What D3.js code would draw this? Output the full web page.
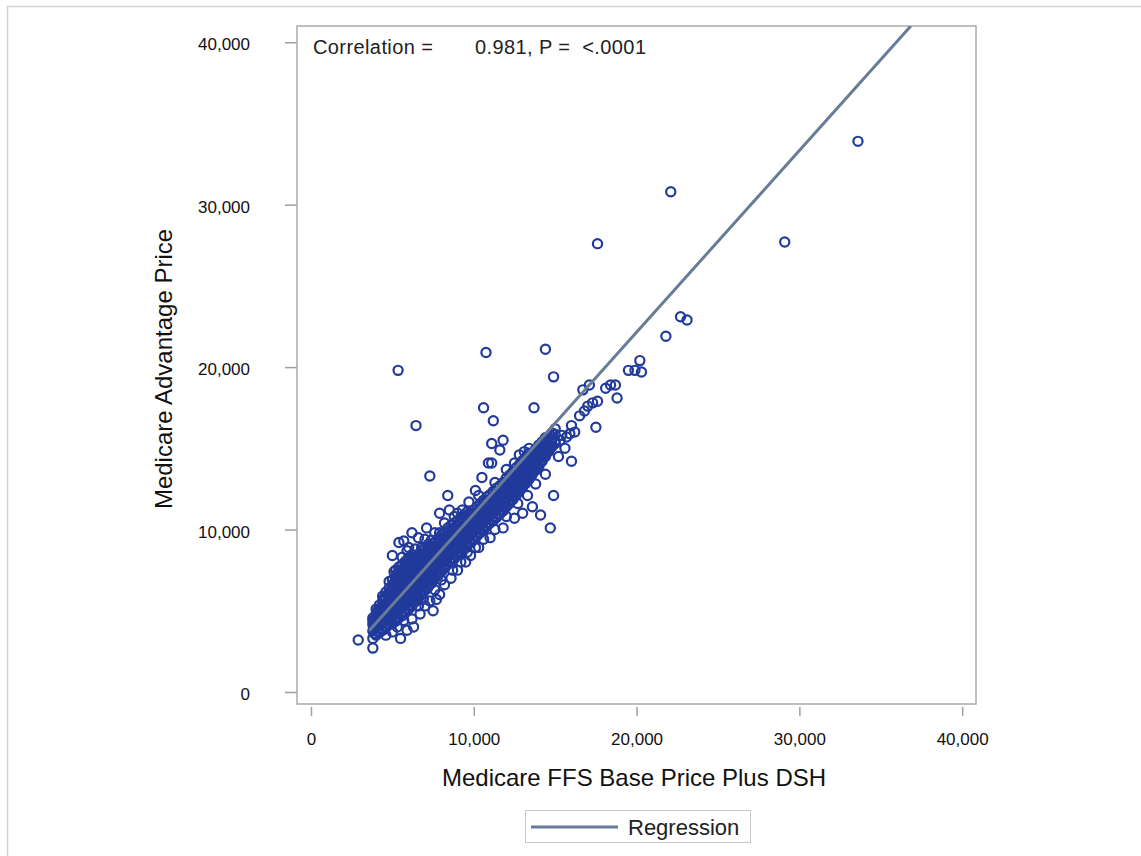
<!DOCTYPE html>
<html>
<head>
<meta charset="utf-8">
<title>Medicare Advantage vs FFS Price</title>
<script src="https://cdn.jsdelivr.net/npm/d3@7/dist/d3.min.js"></script>
<style>
  html, body { margin: 0; padding: 0; background: #fff; }
  svg { display: block; font-family: "Liberation Sans", Arial, Helvetica, sans-serif; }
</style>
</head>
<body>
<svg id="chart" width="1141" height="856"></svg>
<script>
// ---- data: FFS base price plus DSH (x) vs Medicare Advantage price (y) ----
const xTicks = [0, 10000, 20000, 30000, 40000];
const yTicks = [0, 10000, 20000, 30000, 40000];

// main cloud, grouped by FFS price with the MA prices observed at that FFS level
const coreColumns = [
  [3800, [3300, 3750, 4150, 4550]],
  [4000, [3500, 3950, 4350, 4800, 5100]],
  [4200, [3650, 4100, 4550, 4950, 5350]],
  [4400, [3800, 4250, 4700, 5150, 5600]],
  [4600, [3950, 4400, 4850, 5300, 5750, 6150]],
  [4800, [4150, 4600, 5050, 5500, 5950, 6400]],
  [5000, [4200, 4650, 5100, 5550, 6000, 6450, 6900]],
  [5200, [4350, 4800, 5250, 5700, 6150, 6600, 7050, 7500]],
  [5400, [4550, 5000, 5450, 5900, 6350, 6800, 7250, 7700]],
  [5600, [4700, 5150, 5600, 6050, 6500, 6950, 7400, 7850]],
  [5800, [4900, 5350, 5800, 6250, 6700, 7150, 7600, 8050]],
  [6000, [5100, 5550, 6000, 6450, 6900, 7350, 7800, 8250]],
  [6200, [5300, 5750, 6200, 6650, 7100, 7550, 8000, 8450]],
  [6400, [5550, 6000, 6450, 6900, 7350, 7800, 8250]],
  [6600, [5800, 6250, 6700, 7150, 7600, 8050, 8500]],
  [6800, [6000, 6450, 6900, 7350, 7800, 8250, 8700]],
  [7000, [6250, 6700, 7150, 7600, 8050, 8500, 8900]],
  [7200, [6450, 6900, 7350, 7800, 8250, 8700, 9100]],
  [7400, [6700, 7150, 7600, 8050, 8500, 8950, 9350]],
  [7600, [6950, 7400, 7850, 8300, 8750, 9200]],
  [7800, [7150, 7600, 8050, 8500, 8950, 9400]],
  [8000, [7400, 7850, 8300, 8750, 9200, 9650]],
  [8200, [7600, 8050, 8500, 8950, 9400, 9850]],
  [8400, [7850, 8300, 8750, 9200, 9650, 10100]],
  [8600, [8000, 8450, 8900, 9350, 9800, 10250]],
  [8800, [8200, 8650, 9100, 9550, 10000, 10400]],
  [9000, [8400, 8850, 9300, 9750, 10200, 10550]],
  [9200, [8600, 9050, 9500, 9950, 10400, 10750]],
  [9400, [8800, 9250, 9700, 10150, 10600, 10900]],
  [9600, [9000, 9450, 9900, 10350, 10800, 11100]],
  [9800, [9200, 9650, 10100, 10550, 11000]],
  [10000, [9400, 9850, 10300, 10750, 11200]],
  [10200, [9600, 10050, 10500, 10950, 11400]],
  [10400, [9800, 10250, 10700, 11150, 11600]],
  [10600, [10000, 10450, 10900, 11350, 11800]],
  [10800, [10200, 10650, 11100, 11550, 12000]],
  [11000, [10400, 10850, 11300, 11750, 12150]],
  [11200, [10550, 11000, 11450, 11900, 12350]],
  [11400, [10750, 11200, 11650, 12100, 12550]],
  [11600, [10950, 11400, 11850, 12300, 12700]],
  [11800, [11150, 11600, 12050, 12500, 12900]],
  [12000, [11400, 11850, 12300, 12750, 13150]],
  [12200, [11600, 12050, 12500, 12950, 13350]],
  [12400, [11850, 12300, 12750, 13200, 13550]],
  [12600, [12100, 12550, 13000, 13450, 13800]],
  [12800, [12350, 12800, 13250, 13700, 14000]],
  [13000, [12600, 13050, 13500, 13950, 14250]],
  [13200, [12850, 13300, 13750, 14200, 14450]],
  [13400, [13100, 13550, 14000, 14450, 14700]],
  [13600, [13400, 13850, 14300, 14700]],
  [13800, [13650, 14100, 14550, 14950]],
  [14000, [13900, 14350, 14800, 15200]],
  [14200, [14200, 14650, 15050, 15400]],
  [14400, [14500, 14950, 15350, 15650]],
  [14600, [14800, 15250, 15650]],
  [14800, [15100, 15550, 15950]],
  [15000, [15400, 15850, 16200]]
];

// hospitals falling between the columns above
const coreColumnsMid = [
  [3900, [3600, 4000, 4400]],
  [4100, [3750, 4200, 4600, 5000]],
  [4300, [3900, 4350, 4800, 5200]],
  [4500, [4050, 4500, 4950, 5400, 5800]],
  [4700, [4200, 4650, 5100, 5550, 6000]],
  [4900, [4400, 4850, 5300, 5750, 6200]],
  [5100, [4450, 4900, 5350, 5800, 6250, 6700]],
  [5300, [4600, 5050, 5500, 5950, 6400, 6850, 7300]],
  [5500, [4800, 5250, 5700, 6150, 6600, 7050, 7500]],
  [5700, [4950, 5400, 5850, 6300, 6750, 7200, 7650]],
  [5900, [5150, 5600, 6050, 6500, 6950, 7400, 7850]],
  [6100, [5350, 5800, 6250, 6700, 7150, 7600, 8050]],
  [6300, [5550, 6000, 6450, 6900, 7350, 7800, 8250]],
  [6500, [5800, 6250, 6700, 7150, 7600, 8050]],
  [6700, [6050, 6500, 6950, 7400, 7850, 8300]],
  [6900, [6250, 6700, 7150, 7600, 8050, 8500]],
  [7100, [6500, 6950, 7400, 7850, 8300, 8700]],
  [7300, [6700, 7150, 7600, 8050, 8500, 8900]],
  [7500, [6950, 7400, 7850, 8300, 8750, 9150]],
  [7700, [7200, 7650, 8100, 8550, 9000]],
  [7900, [7400, 7850, 8300, 8750, 9200]],
  [8100, [7650, 8100, 8550, 9000, 9450]],
  [8300, [7850, 8300, 8750, 9200, 9650]],
  [8500, [8100, 8550, 9000, 9450, 9900]],
  [8700, [8250, 8700, 9150, 9600, 10050]],
  [8900, [8450, 8900, 9350, 9800, 10200]],
  [9100, [8650, 9100, 9550, 10000, 10400]],
  [9300, [8850, 9300, 9750, 10200, 10600]],
  [9500, [9050, 9500, 9950, 10400, 10750]],
  [9700, [9250, 9700, 10150, 10600, 10950]],
  [9900, [9450, 9900, 10350, 10800]],
  [10100, [9650, 10100, 10550, 11000]],
  [10300, [9850, 10300, 10750, 11200]],
  [10500, [10050, 10500, 10950, 11400]],
  [10700, [10250, 10700, 11150, 11600]],
  [10900, [10450, 10900, 11350, 11800]],
  [11100, [10650, 11100, 11550, 11950]],
  [11300, [10800, 11250, 11700, 12150]],
  [11500, [11000, 11450, 11900, 12350]],
  [11700, [11200, 11650, 12100, 12500]],
  [11900, [11400, 11850, 12300, 12700]],
  [12100, [11650, 12100, 12550, 12950]],
  [12300, [11850, 12300, 12750, 13150]],
  [12500, [12100, 12550, 13000, 13400]],
  [12700, [12350, 12800, 13250, 13650]],
  [12900, [12600, 13050, 13500, 13850]],
  [13100, [12850, 13300, 13750, 14100]],
  [13300, [13100, 13550, 14000, 14350]],
  [13500, [13350, 13800, 14250, 14600]],
  [13700, [13650, 14100, 14500]],
  [13900, [13900, 14350, 14750]],
  [14100, [14150, 14600, 15000]],
  [14300, [14450, 14850, 15250]],
  [14500, [14750, 15150, 15500]],
  [14700, [15000, 15450, 15800]]
];

// scattered points above the main cloud
const upperSpread = [
  [5000, 8400], [5400, 9200], [5700, 9300], [6000, 8900], [6200, 9800],
  [6600, 9500], [6800, 8900], [7100, 10100], [7900, 9800], [7900, 11000],
  [8400, 12100], [8500, 11200], [10100, 12400], [10500, 13200], [10900, 14100],
  [11100, 14100], [11600, 14900], [11100, 15300], [11800, 15500], [7300, 13300],
  [12800, 14600], [4400, 5900], [4800, 6800], [5100, 7400], [5600, 8300],
  [5900, 8700], [6400, 8800], [7000, 9400], [7600, 9800], [8800, 10800],
  [9300, 11200], [9700, 11700], [10300, 12100], [11300, 12900], [12000, 13700],
  [12500, 14100], [13100, 14800], [13400, 15000], [9000, 11000], [8200, 10400]
];

// scattered points below the main cloud
const lowerSpread = [
  [4200, 4900], [3800, 4400], [5500, 3300], [5900, 3800], [6200, 4500],
  [6300, 4000], [6700, 4800], [7000, 5300], [7500, 5000], [7700, 5700],
  [7300, 5600], [7900, 6000], [8200, 6600], [8600, 7000], [9000, 7500],
  [9500, 8000], [9800, 8400], [10300, 8900], [11000, 9500], [11800, 10100],
  [12500, 10700], [13000, 11000], [13600, 11400], [14100, 10900], [14700, 10100],
  [14900, 12100], [16000, 14200], [4600, 3500], [5000, 3700], [5300, 4000],
  [5700, 4400], [6600, 5300], [6900, 5700], [7600, 6300], [8000, 6900],
  [8700, 7500], [9200, 8000], [9600, 8600], [10100, 8900], [10600, 9400],
  [11300, 10000], [12000, 10800], [12700, 11600], [13300, 12100], [13800, 12800],
  [14400, 13400], [15200, 14500], [15600, 15000]
];

// upper tail of the cloud, 15,000 to 20,500
const upperTail = [
  [15000, 15300], [15300, 15500], [15400, 15800], [15700, 15700], [15900, 15900],
  [16200, 16000], [16000, 16400], [16500, 17000], [16800, 17300], [17000, 17600],
  [17300, 17800], [17600, 17900], [17500, 16300], [16700, 18600], [17100, 18900],
  [18100, 18700], [18400, 18900], [18700, 18900], [18800, 18100], [19500, 19800],
  [19900, 19800], [20200, 20400], [20300, 19700]
];

// isolated outliers
const outliers = [
  [2900, 3200], [3800, 2700], [5350, 19800], [6450, 16400], [10750, 20900],
  [14400, 21100], [14900, 19400], [10600, 17500], [11200, 16700], [13700, 17500],
  [22100, 30800], [17600, 27600], [29100, 27700], [33600, 33900], [22700, 23100],
  [23100, 22900], [21800, 21900]
];

// fitted regression line: MA = intercept + slope * FFS
const regSlope = 1.119;
const regIntercept = -232;
const regStartFFS = 3600;

const corrLabel = "Correlation =";
const corrValue = "0.981, P =  <.0001";

// ---- layout ----
const svg = d3.select("#chart");
const plot = { left: 297, top: 26, right: 976, bottom: 704 };

const x = d3.scaleLinear().domain([-860, 40850]).range([plot.left, plot.right]);
const y = d3.scaleLinear().domain([-740, 41000]).range([plot.bottom, plot.top]);

const fmt = d3.format(",");
const pointColor = "#213a9b";
const fitColor = "#687b97";
const frameColor = "#ababab";

// outer border of the graph area
svg.append("rect")
  .attr("x", 7.5).attr("y", 6.5)
  .attr("width", 1141).attr("height", 856)
  .attr("fill", "none").attr("stroke", "#d4d4d4").attr("stroke-width", 1.5);

svg.append("defs").append("clipPath").attr("id", "plotClip")
  .append("rect")
  .attr("x", plot.left).attr("y", plot.top)
  .attr("width", plot.right - plot.left).attr("height", plot.bottom - plot.top);

// y axis
const yAxis = svg.append("g")
  .attr("transform", `translate(${plot.left},0)`)
  .call(d3.axisLeft(y).tickValues(yTicks).tickFormat(fmt).tickSize(12).tickPadding(35));
yAxis.select(".domain").remove();
yAxis.selectAll("line").attr("stroke", "#a0a0a0").attr("stroke-width", 1.5);
yAxis.selectAll("text")
  .attr("fill", "#111").attr("font-size", 17)
  .attr("font-family", "'Liberation Sans', Arial, sans-serif")
  .attr("dy", "0.45em");

// x axis (ticks sit just below the frame)
const xAxis = svg.append("g")
  .attr("transform", `translate(0,${plot.bottom + 3})`)
  .call(d3.axisBottom(x).tickValues(xTicks).tickFormat(fmt).tickSize(9).tickPadding(17));
xAxis.select(".domain").remove();
xAxis.selectAll("line").attr("stroke", "#a0a0a0").attr("stroke-width", 1.5);
xAxis.selectAll("text")
  .attr("fill", "#111").attr("font-size", 17)
  .attr("font-family", "'Liberation Sans', Arial, sans-serif");

// frame
svg.append("rect")
  .attr("x", plot.left).attr("y", plot.top)
  .attr("width", plot.right - plot.left).attr("height", plot.bottom - plot.top)
  .attr("fill", "none").attr("stroke", frameColor).attr("stroke-width", 1.5);

// points
const points = [];
coreColumns.forEach(([fx, mas]) => mas.forEach(m => points.push([fx, m])));
coreColumnsMid.forEach(([fx, mas]) => mas.forEach(m => points.push([fx, m])));
upperSpread.forEach(p => points.push(p));
lowerSpread.forEach(p => points.push(p));
upperTail.forEach(p => points.push(p));
outliers.forEach(p => points.push(p));

svg.append("g").attr("clip-path", "url(#plotClip)")
  .selectAll("circle")
  .data(points)
  .join("circle")
  .attr("cx", d => x(d[0]))
  .attr("cy", d => y(d[1]))
  .attr("r", 4.6)
  .attr("fill", "none")
  .attr("stroke", pointColor)
  .attr("stroke-width", 2.2);

// regression line, from the lowest fitted FFS value up to the top of the frame
const regEndFFS = (y.domain()[1] - regIntercept) / regSlope;
svg.append("g").attr("clip-path", "url(#plotClip)")
  .append("line")
  .attr("x1", x(regStartFFS)).attr("y1", y(regIntercept + regSlope * regStartFFS))
  .attr("x2", x(regEndFFS)).attr("y2", y(regIntercept + regSlope * regEndFFS))
  .attr("stroke", fitColor).attr("stroke-width", 3);

// correlation inset
svg.append("text")
  .attr("x", 313).attr("y", 54)
  .attr("font-size", 20).attr("letter-spacing", 0.4).attr("fill", "#222")
  .text(corrLabel);
svg.append("text")
  .attr("x", 475).attr("y", 54)
  .attr("font-size", 20).attr("letter-spacing", 0.4).attr("fill", "#222")
  .style("white-space", "pre")
  .text(corrValue);

// axis titles
svg.append("text")
  .attr("x", 634).attr("y", 786)
  .attr("text-anchor", "middle")
  .attr("font-size", 24).attr("fill", "#111")
  .text("Medicare FFS Base Price Plus DSH");

svg.append("text")
  .attr("transform", "translate(172,369) rotate(-90)")
  .attr("text-anchor", "middle")
  .attr("font-size", 24).attr("fill", "#111")
  .text("Medicare Advantage Price");

// legend
const legend = svg.append("g");
legend.append("rect")
  .attr("x", 525.5).attr("y", 810.5).attr("width", 225).attr("height", 32)
  .attr("fill", "#fff").attr("stroke", "#c8c8c8").attr("stroke-width", 1);
legend.append("line")
  .attr("x1", 531).attr("x2", 618).attr("y1", 827).attr("y2", 827)
  .attr("stroke", fitColor).attr("stroke-width", 3);
legend.append("text")
  .attr("x", 628).attr("y", 835)
  .attr("font-size", 22).attr("fill", "#222")
  .text("Regression");
</script>
</body>
</html>
